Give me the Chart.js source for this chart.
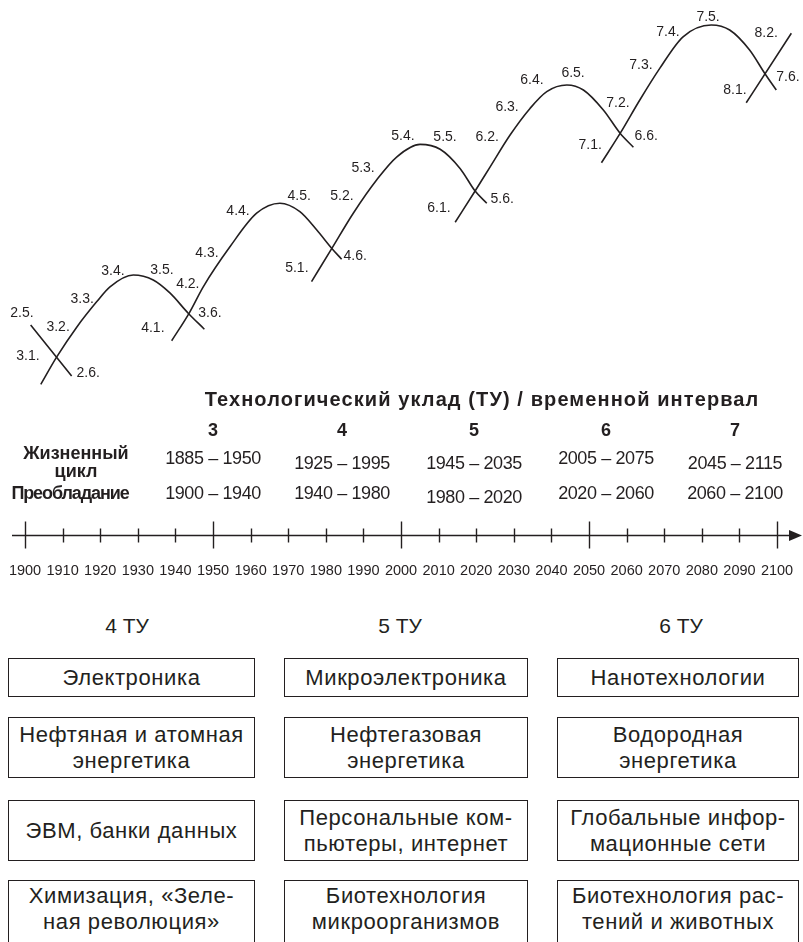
<!DOCTYPE html>
<html lang="ru">
<head>
<meta charset="utf-8">
<title>Технологические уклады</title>
<script src="https://cdn.jsdelivr.net/npm/chart.js@4.4.1/dist/chart.umd.min.js"></script>
<style>
  html, body { margin: 0; padding: 0; background: #fff; }
  body { width: 803px; height: 942px; overflow: hidden; position: relative;
         font-family: "Liberation Sans", Arial, sans-serif; color: #231f20; }
  #wrap { position: absolute; left: 0; top: 0; width: 803px; height: 600px; }
  .t { position: absolute; transform: translate(-50%, -50%); white-space: nowrap; line-height: 1; }
  .b { font-weight: bold; }
  .box { position: absolute; border: 1.4px solid #231f20; box-sizing: border-box; display: flex;
         align-items: center; justify-content: center; text-align: center;
         font-size: 22px; line-height: 26px; letter-spacing: 0.6px; }
</style>
</head>
<body>
<div id="wrap"><canvas id="chart" width="803" height="600"></canvas></div>
<div id="table"></div>
<div id="boxes"></div>
<script>
// wave points: x = year, y = level of development
const wave2X = [1901.5, 1912.4];
const wave2Y = [18.75, 6];
const wave3X = [1904.2, 1908.4, 1913.75, 1919.1, 1922.6, 1928.8, 1934.1, 1938.6, 1943.4, 1947.7];
const wave3Y = [3.9, 10.7, 18.2, 24.6, 28.3, 31.25, 30, 26.7, 21.7, 17.7];
const wave4X = [1939.0, 1943.7, 1947.4, 1954.5, 1961.6, 1967.8, 1973.1, 1977.6, 1981.6, 1984.2];
const wave4Y = [14.8, 21.8, 28.3, 38.3, 46.7, 49.2, 47.1, 42.5, 37.9, 35.2];
const wave5X = [1976.2, 1981.6, 1987.3, 1993.5, 1998.9, 2005.05, 2010.4, 2015.7, 2019.7, 2022.8];
const wave5Y = [29.6, 37.9, 46.7, 55, 60.8, 63.9, 62.7, 57.9, 52.25, 49.2];
const wave6X = [2014.4, 2019.7, 2023.7, 2029.0, 2034.3, 2038.75, 2044.1, 2048.5, 2053.8, 2058.25, 2061.8];
const wave6Y = [44.45, 52.25, 58.3, 66.25, 72.9, 77.1, 78.75, 77.5, 72.5, 66.7, 63.2];
const wave7X = [2053.3, 2058.3, 2063.5, 2068.8, 2075.0, 2082.5, 2087.4, 2092.7, 2096.7, 2099.8];
const wave7Y = [59.3, 66.7, 75, 82.9, 90.8, 93.75, 92.5, 87.5, 81.7, 77.5];
const wave8X = [2091.8, 2103.8];
const wave8Y = [74.3, 91.7];

// phase labels along the waves
const phaseText = ["2.5.", "3.1.", "3.2.", "2.6.", "3.3.", "3.4.", "3.5.", "4.1.", "4.2.", "3.6.",
  "4.3.", "4.4.", "4.5.", "5.2.", "5.1.", "4.6.", "5.3.", "5.4.", "5.5.", "6.2.", "6.1.", "5.6.",
  "6.3.", "6.4.", "6.5.", "7.2.", "7.1.", "6.6.", "7.3.", "7.4.", "7.5.", "8.2.", "8.1.", "7.6."];
const phaseX = [1899.2, 1900.8, 1908.8, 1916.8, 1915.2, 1923.4, 1936.4, 1934.0, 1943.3, 1949.2,
  1948.4, 1956.65, 1972.9, 1984.3, 1972.3, 1987.8, 1989.9, 2000.5, 2011.7, 2022.9, 2010.1, 2026.9,
  2028.2, 2034.8, 2045.75, 2057.7, 2050.3, 2065.2, 2063.8, 2071.0, 2081.65, 2097.1, 2088.8, 2102.9];
const phaseY = [21.75, 11, 18.25, 6.75, 25.25, 32.25, 32.5, 18, 29, 21.75,
  36.75, 47.25, 51, 51, 33, 36, 58, 66, 65.75, 65.75, 48, 50.25,
  73.25, 80, 81.75, 74.25, 63.75, 66, 83.75, 92, 95.75, 91.75, 77.5, 80.75];

// time axis
const axisYears = [1900, 1910, 1920, 1930, 1940, 1950, 1960, 1970, 1980, 1990, 2000,
  2010, 2020, 2030, 2040, 2050, 2060, 2070, 2080, 2090, 2100];
const majorYears = [1900, 1950, 2000, 2050, 2100];

// table of modes
const tableTitle = "Технологический уклад (ТУ) / временной интервал";
const modes = ["3", "4", "5", "6", "7"];
const lifeCycle = ["1885 – 1950", "1925 – 1995", "1945 – 2035", "2005 – 2075", "2045 – 2115"];
const dominance = ["1900 – 1940", "1940 – 1980", "1980 – 2020", "2020 – 2060", "2060 – 2100"];

// key technologies
const techHeads = ["4 ТУ", "5 ТУ", "6 ТУ"];
const techRows = [
  ["Электроника", "Микроэлектроника", "Нанотехнологии"],
  ["Нефтяная и атомная<br>энергетика", "Нефтегазовая<br>энергетика", "Водородная<br>энергетика"],
  ["ЭВМ, банки данных", "Персональные ком-<br>пьютеры, интернет", "Глобальные инфор-<br>мационные сети"],
  ["Химизация, «Зеле-<br>ная революция»", "Биотехнология<br>микроорганизмов", "Биотехнология рас-<br>тений и животных"]
];

const ink = "#231f20";
const font = '"Liberation Sans", Arial, sans-serif';

function pts(xs, ys) { return xs.map((x, i) => ({ x: x, y: ys[i] })); }

const waves = [[wave2X, wave2Y], [wave3X, wave3Y], [wave4X, wave4Y], [wave5X, wave5Y],
  [wave6X, wave6Y], [wave7X, wave7Y], [wave8X, wave8Y]];

const phaseLabels = {
  id: 'phaseLabels',
  afterDatasetsDraw(chart) {
    const ctx = chart.ctx, xs = chart.scales.x, ys = chart.scales.y;
    ctx.save();
    ctx.fillStyle = ink;
    ctx.font = '14px ' + font;
    ctx.textAlign = 'center';
    ctx.textBaseline = 'middle';
    phaseText.forEach((t, i) => ctx.fillText(t, xs.getPixelForValue(phaseX[i]), ys.getPixelForValue(phaseY[i])));
    ctx.restore();
  }
};

const timeAxis = {
  id: 'timeAxis',
  afterDraw(chart) {
    const ctx = chart.ctx, xs = chart.scales.x;
    const y0 = 535.5;
    ctx.save();
    ctx.strokeStyle = ink;
    ctx.fillStyle = ink;
    ctx.lineWidth = 1.4;
    ctx.beginPath(); ctx.moveTo(12, y0); ctx.lineTo(792, y0); ctx.stroke();
    ctx.beginPath(); ctx.moveTo(802, y0); ctx.lineTo(789, y0 - 5.5); ctx.lineTo(789, y0 + 5.5); ctx.closePath(); ctx.fill();
    axisYears.forEach(yr => {
      const px = Math.round(xs.getPixelForValue(yr)) + 0.5;
      const major = majorYears.includes(yr);
      ctx.beginPath();
      ctx.moveTo(px, major ? y0 - 14 : y0 - 7);
      ctx.lineTo(px, major ? y0 + 13 : y0 + 7);
      ctx.stroke();
    });
    ctx.font = '14.5px ' + font;
    ctx.textAlign = 'center';
    ctx.textBaseline = 'middle';
    axisYears.forEach(yr => ctx.fillText(String(yr), xs.getPixelForValue(yr), 571));
    ctx.restore();
  }
};

new Chart(document.getElementById('chart'), {
  type: 'scatter',
  data: {
    datasets: waves.map(w => ({
      data: pts(w[0], w[1]),
      showLine: true,
      borderColor: ink,
      borderWidth: 1.6,
      pointRadius: 0,
      cubicInterpolationMode: 'monotone'
    }))
  },
  options: {
    responsive: false,
    animation: false,
    events: [],
    devicePixelRatio: 1,
    layout: { padding: 0 },
    plugins: { legend: { display: false }, tooltip: { enabled: false } },
    scales: {
      x: { type: 'linear', display: false, min: 1893.35, max: 2106.9 },
      y: { type: 'linear', display: false, min: -50, max: 100 }
    }
  },
  plugins: [phaseLabels, timeAxis]
});

// table text
const colX = [213, 342, 474, 606, 735];
const row1Y = [458, 463, 463, 458, 463];
const row2Y = [493, 493, 497, 493, 493];
const table = document.getElementById('table');
function put(parent, html, x, y, cls, size, spacing) {
  const d = document.createElement('div');
  d.className = 't ' + (cls || '');
  d.style.left = x + 'px';
  d.style.top = y + 'px';
  d.style.fontSize = size + 'px';
  if (spacing) d.style.letterSpacing = spacing + 'px';
  d.innerHTML = html;
  parent.appendChild(d);
  return d;
}
put(table, tableTitle, 482, 399, 'b', 20, 1.1);
modes.forEach((m, i) => put(table, m, colX[i], 430, 'b', 18));
put(table, "Жизненный", 76, 453, 'b', 18);
put(table, "цикл", 76, 471, 'b', 18);
put(table, "Преобладание", 70, 493, 'b', 18, -1.1);
lifeCycle.forEach((s, i) => put(table, s, colX[i], row1Y[i], '', 18, -0.4));
dominance.forEach((s, i) => put(table, s, colX[i], row2Y[i], '', 18, -0.4));

// technology boxes
const headX = [127, 400, 681];
const boxLeft = [8, 284, 557];
const boxWidth = [247, 244, 242];
const rowTop = [658, 717, 800, 880];
const rowHeight = [39, 61, 61, 72];
const rowPadBottom = [0, 0, 0, 14];
const boxes = document.getElementById('boxes');
techHeads.forEach((h, i) => put(boxes, h, headX[i], 625, '', 21));
techRows.forEach((row, r) => row.forEach((txt, c) => {
  const d = document.createElement('div');
  d.className = 'box';
  d.style.left = boxLeft[c] + 'px';
  d.style.top = rowTop[r] + 'px';
  d.style.width = boxWidth[c] + 'px';
  d.style.height = rowHeight[r] + 'px';
  d.style.paddingBottom = rowPadBottom[r] + 'px';
  d.innerHTML = '<span>' + txt + '</span>';
  boxes.appendChild(d);
}));
</script>
</body>
</html>
